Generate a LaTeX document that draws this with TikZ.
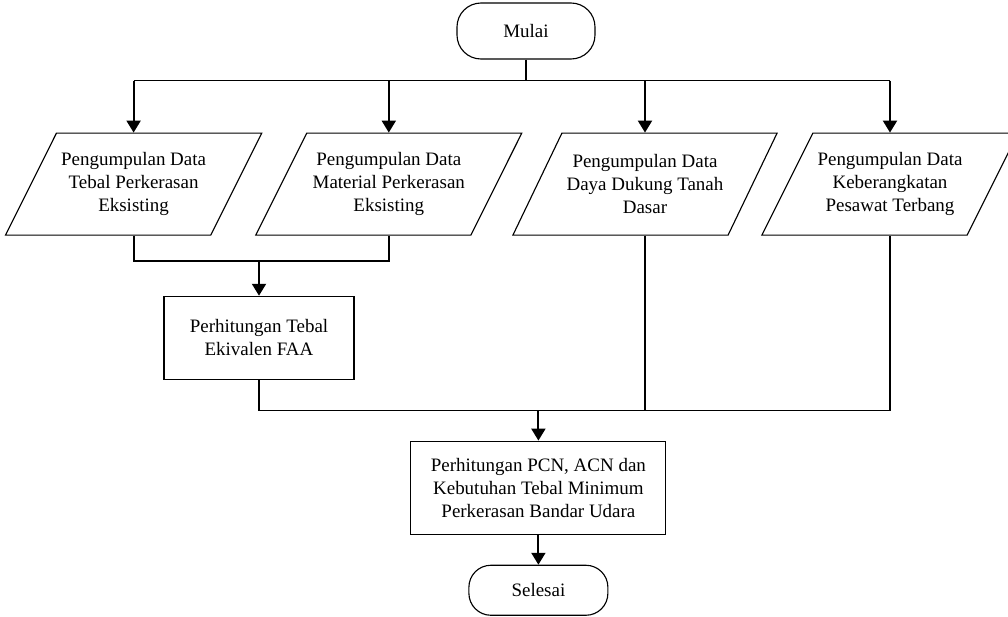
\documentclass[tikz,border=0pt]{standalone}
\usepackage{fontspec}
\setmainfont{Liberation Serif}
\usepackage{tikz}
\usetikzlibrary{shapes.geometric, arrows.meta, positioning, calc}
\tikzstyle{startstop} = [rectangle, rounded corners=0.6cm,
minimum width=3.45cm,
minimum height=1.4cm,
text centered,
line width=0.8pt,
draw=black]
\tikzstyle{io} = [trapezium,
trapezium stretches body=true,
trapezium left angle=63.4,
trapezium right angle=116.6,
inner ysep=0.48cm,
minimum height=2.55cm, text centered,
line width=0.8pt,
draw=black]
\tikzstyle{process} = [rectangle,
text centered,
line width=0.8pt,
draw=black]
\tikzstyle{arrow} = [line width=1.3pt,-{Triangle[width=10pt,length=8.5pt]},draw=black]
\tikzstyle{line} = [line width=1.3pt,draw=black]

\begin{document}
\begin{tikzpicture}[every node/.style={font=\fontsize{13.5}{16.4}\selectfont}, align=center]
        \useasboundingbox (0,0) rectangle (25.2,-15.4);

        % Nodes
        \node (start) [startstop] at (13.15,-0.775) {Mulai};
        \node (tebal) [io, minimum width=6.275cm, below=1.825cm of start, xshift=-9.81cm] {Pengumpulan Data\\Tebal Perkerasan\\Eksisting};
        \node (material) [io, minimum width=6.65cm, below=1.825cm of start, xshift=-3.43cm] {Pengumpulan Data\\Material Perkerasan\\Eksisting};
        \node (daya) [io, minimum width=6.5cm, below=1.825cm of start, xshift=2.975cm] {Pengumpulan Data\\Daya Dukung Tanah\\Dasar};
        \node (keber) [io, minimum width=6.1cm, below=1.825cm of start, xshift=9.1cm] {Pengumpulan Data\\Keberangkatan\\Pesawat Terbang};
        \node (faa) [process, minimum width=4.75cm, minimum height=2.075cm, below=1.5cm of tebal, xshift=3.135cm] {Perhitungan Tebal\\Ekivalen FAA};
        \node (hitung) [process, minimum width=6.375cm, minimum height=2.325cm, below=9.525cm of start, xshift=0.31cm] {Perhitungan PCN, ACN dan\\Kebutuhan Tebal Minimum\\Perkerasan Bandar Udara};
        \node (end) [startstop, minimum width=3.475cm, minimum height=1.25cm, rounded corners=0.55cm, below=0.75cm of hitung] {Selesai};

        % Titik percabangan
        \coordinate (bus) at ($(start.south)+(0,-0.525)$);
        \coordinate (gabung1) at ($(faa.north)+(0,0.875)$);
        \coordinate (gabung2) at ($(hitung.north)+(0,0.75)$);

        % Connections
        \draw [line] (start) -- (bus);
        \draw [line] (tebal.north |- bus) -- (keber.north |- bus);
        \draw [arrow] (tebal.north |- bus) -- (tebal.north);
        \draw [arrow] (material.north |- bus) -- (material.north);
        \draw [arrow] (daya.north |- bus) -- (daya.north);
        \draw [arrow] (keber.north |- bus) -- (keber.north);
        \draw [line] (tebal.south) |- (material.south |- gabung1) -- (material.south);
        \draw [arrow] (gabung1) -- (faa.north);
        \draw [line] (faa.south) |- (keber.south |- gabung2) -- (keber.south);
        \draw [line] (daya.south) -- (daya.south |- gabung2);
        \draw [arrow] (gabung2) -- (hitung.north);
        \draw [arrow] (hitung) -- (end);

\end{tikzpicture}
\end{document}
